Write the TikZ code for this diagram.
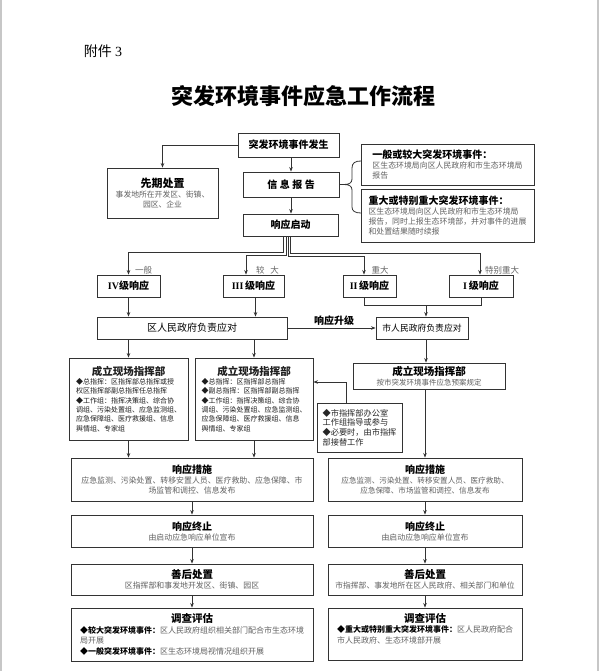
\documentclass[tikz,border=0pt]{standalone}
\usepackage{fontspec}
\setmainfont{Noto Sans CJK SC}
\newfontfamily\lat{Liberation Serif}
\usetikzlibrary{arrows.meta}
\newcommand{\myfs}[2]{\fontsize{#1}{#2}\selectfont}
\newcommand{\gl}[1]{{\color{black!62}#1}}
\tikzset{
 box/.style={draw=black!80, line width=0.9pt, fill=white, inner sep=1pt, align=center},
 arr/.style={draw=black!80, line width=0.8pt, -{Stealth[length=4.5pt,width=3.6pt]}},
 ln/.style={draw=black!80, line width=0.8pt},
 lab/.style={text=black!60, font=\myfs{8.5}{10}},
}
\begin{document}
\begin{tikzpicture}[x=1pt,y=-1pt]
\useasboundingbox (0,0) rectangle (599,671);
\fill[white] (0,0) rectangle (599,671);
\fill[black!22] (0,0) rectangle (2,671);
\fill[black!22] (597,0) rectangle (599,671);

\node[font=\myfs{14}{16}] (fj) at (103,51) {附件 {\lat 3}};
\node[font=\myfs{22}{24}\bfseries] (title) at (303,96) {突发环境事件应急工作流程};

\node[box, minimum width=101pt, minimum height=24pt, font=\myfs{10}{12}\bfseries] (occur) at (288.5,145) {突发环境事件发生};
\node[box, minimum width=111pt, minimum height=50pt, font=\myfs{7.8}{10}] (pre) at (162.5,193) {{\myfs{11}{13}\bfseries 先期处置}\\ \gl{事发地所在开发区、街镇、}\\ \gl{园区、企业}};
\node[box, minimum width=96pt, minimum height=25pt, font=\myfs{10}{12}\bfseries] (info) at (291,184.5) {信\hspace{2.5pt}息\hspace{2.5pt}报\hspace{2.5pt}告};
\node[box, minimum width=95pt, minimum height=22pt, font=\myfs{10}{12}\bfseries] (start) at (290.5,225) {响应启动};

\node[box, minimum width=173pt, minimum height=41pt, align=left, font=\myfs{7.9}{10}] (rb1) at (447.5,164.5) {{\myfs{10}{12}\bfseries 一般或较大突发环境事件：}\\ \gl{区生态环境局向区人民政府和市生态环境局}\\ \gl{报告}};
\node[box, minimum width=173pt, minimum height=53pt, align=left, font=\myfs{7.9}{10}] (rb2) at (447.5,215.5) {{\myfs{10}{12}\bfseries 重大或特别重大突发环境事件：}\\ \gl{区生态环境局向区人民政府和市生态环境局}\\ \gl{报告，同时上报生态环境部，并对事件的进展}\\ \gl{和处置结果随时续报}};

\coordinate (bt) at (344,184.5);
\draw[ln] (361,161) .. controls (355,161) and (352,163) .. (352,168) -- (352,179) .. controls (352,183) and (349,184.5) .. (bt) .. controls (349,184.5) and (352,186) .. (352,190) -- (352,207) .. controls (352,211) and (355,213) .. (361,213);

\node[box, minimum width=63pt, minimum height=22pt, font=\myfs{10}{12}\bfseries] (l4) at (128.5,286) {{\lat IV}级响应};
\node[box, minimum width=61pt, minimum height=22pt, font=\myfs{10}{12}\bfseries] (l3) at (253.5,286) {{\lat III}\,级响应};
\node[box, minimum width=53pt, minimum height=22pt, font=\myfs{10}{12}\bfseries] (l2) at (369.5,286) {{\lat II}\,级响应};
\node[box, minimum width=64pt, minimum height=22pt, font=\myfs{10}{12}\bfseries] (l1) at (481,286) {{\lat I}\,级响应};

\node[lab] (t4) at (143.5,270) {一般};
\node[lab] (t3) at (267.5,270) {较\hspace{6pt}大};
\node[lab] (t2) at (380,270) {重大};
\node[lab] (t1) at (502,270) {特别重大};

\node[box, minimum width=190pt, minimum height=22pt, font=\myfs{10}{12}] (dist) at (192,328) {区人民政府负责应对};
\node[box, minimum width=92pt, minimum height=22pt, font=\myfs{8.8}{11}] (city) at (422,328) {市人民政府负责应对};
\node[font=\myfs{10}{12}\bfseries] (up) at (334,321) {响应升级};

\node[box, minimum width=119pt, minimum height=82pt, align=left, font=\myfs{7}{9.3}, text=black!88] (cmdA) at (128.5,399) {\makebox[105pt]{\myfs{10.5}{13}\bfseries 成立现场指挥部}\\ ◆总指挥：区指挥部总指挥或授\\ 权区指挥部副总指挥任总指挥\\ ◆工作组：指挥决策组、综合协\\ 调组、污染处置组、应急监测组、\\ 应急保障组、医疗救援组、信息\\ 舆情组、专家组};
\node[box, minimum width=118pt, minimum height=82pt, align=left, font=\myfs{7}{9.3}, text=black!88] (cmdB) at (254,399) {\makebox[105pt]{\myfs{10.5}{13}\bfseries 成立现场指挥部}\\ ◆总指挥：区指挥部总指挥\\ ◆副总指挥：区指挥部副总指挥\\ ◆工作组：指挥决策组、综合协\\ 调组、污染处置组、应急监测组、\\ 应急保障组、医疗救援组、信息\\ 舆情组、专家组};
\node[box, minimum width=152pt, minimum height=26pt, font=\myfs{7.5}{10}] (cmdC) at (429,376) {{\myfs{10.5}{12}\bfseries 成立现场指挥部}\\ \gl{按市突发环境事件应急预案规定}};
\node[box, minimum width=85pt, minimum height=49pt, align=left, font=\myfs{8.2}{9.6}, text=black!85] (cmdD) at (359.5,427.5) {◆市指挥部办公室\\ 工作组指导或参与\\ ◆必要时，由市指挥\\ 部接替工作};

\node[box, minimum width=242pt, minimum height=43pt, font=\myfs{7.9}{10}] (m1) at (192,479.5) {{\myfs{10}{12}\bfseries 响应措施}\\ \gl{应急监测、污染处置、转移安置人员、医疗救助、应急保障、市}\\ \gl{场监管和调控、信息发布}};
\node[box, minimum width=194pt, minimum height=43pt, font=\myfs{7.6}{10}] (m2) at (425,479.5) {{\myfs{10}{12}\bfseries 响应措施}\\ \gl{应急监测、污染处置、转移安置人员、医疗救助、}\\ \gl{应急保障、市场监管和调控、信息发布}};

\node[box, minimum width=242pt, minimum height=32pt, font=\myfs{7.9}{10}] (e1) at (192,531) {{\myfs{10}{12}\bfseries 响应终止}\\ \gl{由启动应急响应单位宣布}};
\node[box, minimum width=194pt, minimum height=32pt, font=\myfs{7.9}{10}] (e2) at (425,531) {{\myfs{10}{12}\bfseries 响应终止}\\ \gl{由启动应急响应单位宣布}};

\node[box, minimum width=242pt, minimum height=31pt, font=\myfs{7.9}{10}] (a1) at (192,579.5) {{\myfs{10.5}{12}\bfseries 善后处置}\\ \gl{区指挥部和事发地开发区、街镇、园区}};
\node[box, minimum width=194pt, minimum height=31pt, font=\myfs{7.8}{10}] (a2) at (425,579.5) {{\myfs{10.5}{12}\bfseries 善后处置}\\ \gl{市指挥部、事发地所在区人民政府、相关部门和单位}};

\node[box, minimum width=242pt, minimum height=53pt, align=left, font=\myfs{8}{10.5}] (s1) at (192,634.5) {\makebox[224pt]{\myfs{10.5}{13}\bfseries 调查评估}\\ {\bfseries ◆较大突发环境事件：}\gl{区人民政府组织相关部门配合市生态环境}\\ \gl{局开展}\\ {\bfseries ◆一般突发环境事件：}\gl{区生态环境局视情况组织开展}};
\node[box, minimum width=194pt, minimum height=52pt, align=left, font=\myfs{8}{10.5}] (s2) at (425,634) {\makebox[176pt]{\myfs{10.5}{13}\bfseries 调查评估}\\ {\bfseries ◆重大或特别重大突发环境事件：}\gl{区人民政府配合}\\ \gl{市人民政府、生态环境部开展}\\ \phantom{市}};

% connectors
\draw[arr] (occur.south -| info.north) -- (info.north);
\draw[arr] (occur.west) -| (pre.north);
\draw[arr] (info.south) -- (info.south |- start.north);
\draw[ln] (info.east) -- (bt);

\draw[arr] ([xshift=-7.5pt]start.south) -- ++(0,16) -| (l4.north);
\draw[arr] ([xshift=-4.5pt]start.south) -- ++(0,19) -| ([xshift=-7.5pt]l3.north);
\draw[arr] ([xshift=-2.5pt]start.south) -- ++(0,20) -| ([xshift=-5.5pt]l2.north);
\draw[arr] ([xshift=-0.5pt]start.south) -- ++(0,17) -| ([xshift=-1pt]l1.north);

\draw[arr] (l4.south) -- (l4.south |- dist.north);
\draw[arr] ([xshift=2pt]l3.south) -- ([xshift=2pt]l3.south |- dist.north);
\coordinate (mg) at (426,305);
\draw[ln] ([xshift=-5.5pt]l2.south) |- (mg);
\draw[ln] (l1.south) |- (mg);
\draw[arr] (mg) -- (mg |- city.north);

\draw[arr] (dist.east) -- (city.west);
\draw[arr] (dist.south -| cmdA.north) -- (cmdA.north);
\draw[arr] (dist.south -| cmdB.north) -- (cmdB.north);
\draw[arr] ([xshift=4pt]city.south) -- ([xshift=4pt]city.south |- cmdC.north);
\draw[arr] ([xshift=-13.5pt]cmdD.north) |- ([yshift=17pt]cmdB.east);

\draw[arr] (cmdA.south) -- (cmdA.south |- m1.north);
\draw[arr] (cmdB.south) -- (cmdB.south |- m1.north);
\draw[arr] (m2.north |- cmdC.south) -- (m2.north);

\draw[arr] (m1.south) -- (e1.north);
\draw[arr] (m2.south) -- (e2.north);
\draw[arr] (e1.south) -- (a1.north);
\draw[arr] (e2.south) -- (a2.north);
\draw[arr] (a1.south) -- (s1.north);
\draw[arr] (a2.south) -- (s2.north);
\end{tikzpicture}
\end{document}
